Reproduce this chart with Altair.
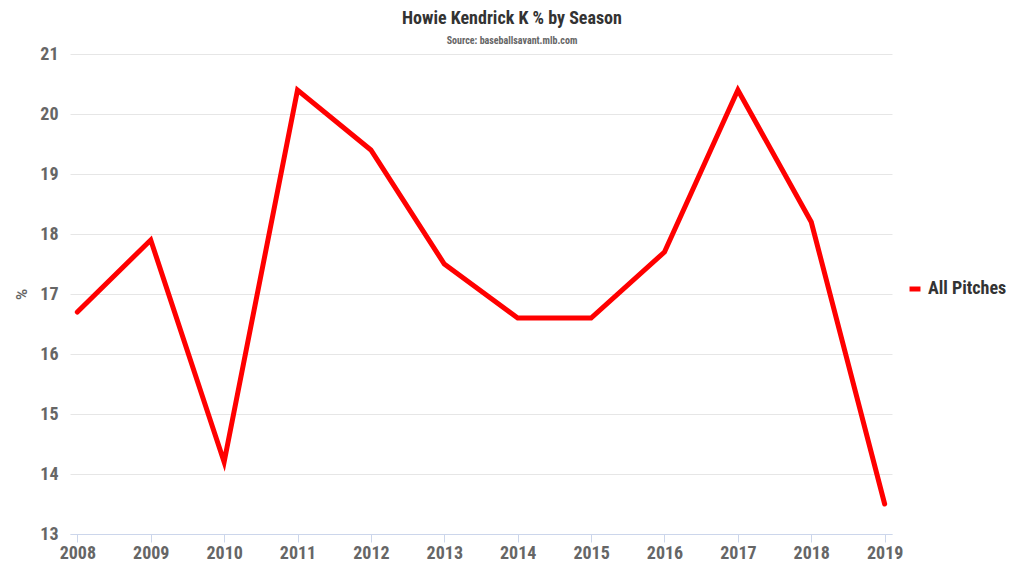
import altair as alt
import pandas as pd

seasons = [2008, 2009, 2010, 2011, 2012, 2013, 2014, 2015, 2016, 2017, 2018, 2019]
k_pct = [16.7, 17.9, 14.2, 20.4, 19.4, 17.5, 16.6, 16.6, 17.7, 20.4, 18.2, 13.5]
series = ["All Pitches"] * len(seasons)

df = pd.DataFrame({"Season": seasons, "K": k_pct, "Series": series})

FONT = "Roboto Condensed, Liberation Sans Narrow, DejaVu Sans Condensed, Roboto"

chart = alt.Chart(df).mark_line(strokeWidth=5, strokeJoin="miter", strokeCap="round").encode(
    x=alt.X("Season:Q", scale=alt.Scale(domain=[2007.9, 2019.1], nice=False, zero=False),
            axis=alt.Axis(values=seasons, format="d", title=None, grid=False,
                          domainColor="#ccd6eb", tickColor="#ccd6eb", tickSize=8,
                          labelFont=FONT, labelFontSize=18, labelFontWeight="bold",
                          labelColor="#666666", labelPadding=2, labelFlush=False)),
    y=alt.Y("K:Q", scale=alt.Scale(domain=[13, 21], nice=False, zero=False),
            axis=alt.Axis(values=list(range(13, 22)), title="%", titleFont="Roboto",
                          titleFontSize=15, titleFontWeight="bold", titleColor="#666666",
                          titlePadding=10, domain=False, ticks=False,
                          gridColor="#e6e6e6", labelFont=FONT, labelFontSize=18,
                          labelFontWeight="bold", labelColor="#666666", labelPadding=12)),
    color=alt.Color("Series:N", scale=alt.Scale(range=["#ff0000"]),
                    legend=alt.Legend(title=None, orient="none", legendX=836, legendY=226,
                                      symbolType="stroke", symbolStrokeWidth=5, symbolSize=120,
                                      labelFont=FONT, labelFontSize=18, labelFontWeight="bold",
                                      labelColor="#333333")),
).properties(
    width=822, height=480,
    autosize=alt.AutoSizeParams(type="none"),
    padding={"left": 62, "top": 46, "right": 124, "bottom": 34},
    title=alt.TitleParams(
        "Howie Kendrick K % by Season",
        subtitle="Source: baseballsavant.mlb.com",
        font=FONT, fontSize=18, fontWeight="bold", color="#333333",
        subtitleFont=FONT, subtitleFontSize=10, subtitleFontWeight="bold",
        subtitleColor="#666666", anchor="middle", dx=31, offset=-1, subtitlePadding=8),
).configure_view(stroke=None)

chart.save("out.html", embed_options={"renderer": "svg", "actions": False})
